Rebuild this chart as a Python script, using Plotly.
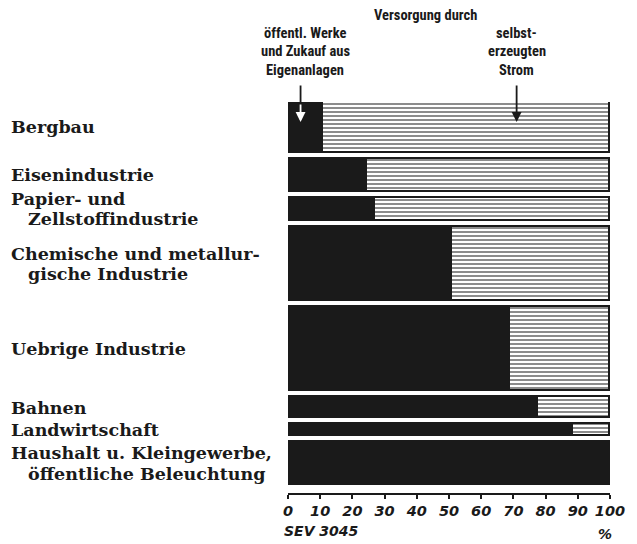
import plotly.graph_objects as go

# Data
categories = [
    ["Bergbau"],
    ["Eisenindustrie"],
    ["Papier- und", "Zellstoffindustrie"],
    ["Chemische und metallur-", "gische Industrie"],
    ["Uebrige Industrie"],
    ["Bahnen"],
    ["Landwirtschaft"],
    ["Haushalt u. Kleingewerbe,", "öffentliche Beleuchtung"],
]
# share supplied by public utilities / purchase (%), rest self-generated
oeffentlich = [11, 24.5, 27, 51, 69, 77.5, 88.5, 100]
# relative consumption (bar thickness)
verbrauch = [51, 33, 23, 75, 84, 21, 12, 43]
gap = 6
tick_values = list(range(0, 101, 10))

selbst = [100 - v for v in oeffentlich]

# bar centres from cumulative thicknesses
centers = []
pos = 0
for t in verbrauch:
    centers.append(pos + t / 2)
    pos += t + gap
total = pos - gap + 8

INK = "#1a1a1a"

fig = go.Figure()
fig.add_trace(go.Bar(
    y=centers, x=oeffentlich, width=verbrauch, orientation="h",
    marker=dict(color=INK, line=dict(color=INK, width=1.8)),
    showlegend=False, hoverinfo="x",
))
fig.add_trace(go.Bar(
    y=centers, x=selbst, base=oeffentlich, width=verbrauch, orientation="h",
    marker=dict(color="white", line=dict(color=INK, width=1.8),
                pattern=dict(shape="-", fgcolor=INK, bgcolor="white",
                             size=4, solidity=0.5)),
    showlegend=False, hoverinfo="x",
))

label_font = dict(family="DejaVu Serif", size=17.5, color=INK, weight="bold")
line_step = 20.5
annotations = []
for lines, y in zip(categories, centers):
    n = len(lines)
    for i, line in enumerate(lines):
        annotations.append(dict(
            text=line, x=-0.868, xref="paper", y=y, yref="y",
            xanchor="left", yanchor="middle", align="left",
            yshift=-(i - (n - 1) / 2) * line_step,
            xshift=17 if i > 0 else 0,
            showarrow=False, font=label_font,
        ))

head_font = dict(family="Roboto Condensed, Liberation Sans Narrow, Roboto, sans-serif",
                 size=14.5, color=INK, weight="bold")
head_step = 18.5
for i, line in enumerate(["öffentl. Werke", "und Zukauf aus", "Eigenanlagen"]):
    annotations.append(dict(text=line, x=0.054, xref="paper", y=1, yref="paper",
                            yshift=69 - i * head_step, yanchor="middle",
                            xanchor="center", showarrow=False, font=head_font))
for i, line in enumerate(["selbst-", "erzeugten", "Strom"]):
    annotations.append(dict(text=line, x=0.71, xref="paper", y=1, yref="paper",
                            yshift=69 - i * head_step, yanchor="middle",
                            xanchor="center", showarrow=False, font=head_font))
annotations += [
    dict(text="Versorgung durch", x=0.428, xref="paper", y=1, yref="paper",
         yshift=87, showarrow=False, font=head_font, yanchor="middle",
         xanchor="center"),
    # arrows
    dict(text="", x=3.9, xref="x", y=20, yref="y", ax=0, ay=-38,
         showarrow=True, arrowhead=0, arrowwidth=1.8, arrowcolor=INK),
    dict(text="", x=3.9, xref="x", y=20, yref="y", ax=0, ay=-19,
         showarrow=True, arrowhead=2, arrowsize=1.1, arrowwidth=1.8,
         arrowcolor="white"),
    dict(text="", x=71, xref="x", y=20, yref="y", ax=0, ay=-38,
         showarrow=True, arrowhead=2, arrowsize=1.1, arrowwidth=1.8,
         arrowcolor=INK),
    # axis unit and code
    dict(text="%", x=98.5, xref="x", y=0, yref="paper", yshift=-41,
         showarrow=False, yanchor="middle", xanchor="center",
         font=dict(family="DejaVu Sans", size=14, color=INK, style="italic",
                   weight="bold")),
    dict(text="SEV 3045", x=0, xref="x", y=0, yref="paper", yshift=-38,
         xshift=-6, xanchor="left", showarrow=False, yanchor="middle",
         font=dict(family="DejaVu Sans", size=14, color=INK, style="italic",
                   weight="bold")),
]

fig.update_layout(
    width=629, height=536,
    margin=dict(l=280, r=16, t=94, b=51),
    plot_bgcolor="white", paper_bgcolor="white",
    barmode="stack", bargap=0,
    annotations=annotations,
    xaxis=dict(range=[0, 100], tickvals=tick_values,
               showgrid=False, zeroline=False, showline=True,
               linecolor=INK, linewidth=1.5, ticks="outside",
               ticklen=4, tickwidth=1.5, tickcolor=INK,
               tickfont=dict(family="DejaVu Sans", size=14.5, color=INK,
                             style="italic", weight="bold")),
    yaxis=dict(range=[total, 0], visible=False, showgrid=False),
)

fig.write_html("out.html")
